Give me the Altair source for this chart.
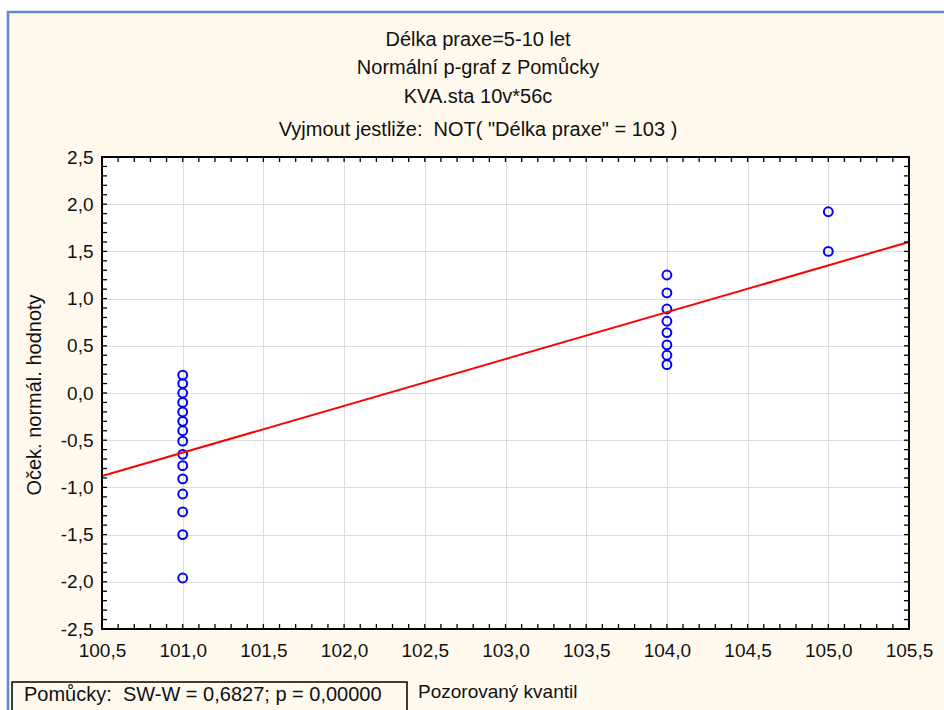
import altair as alt
import pandas as pd

# ---- data ----
obs_quantile = [101.0, 101.0, 101.0, 101.0, 101.0, 101.0, 101.0, 101.0,
                101.0, 101.0, 101.0, 101.0, 101.0, 101.0, 101.0,
                104.0, 104.0, 104.0, 104.0, 104.0, 104.0, 104.0, 104.0,
                105.0, 105.0]
exp_normal = [-1.96, -1.50, -1.26, -1.07, -0.91, -0.77, -0.65, -0.51,
              -0.40, -0.30, -0.20, -0.10, 0.00, 0.10, 0.19,
              0.30, 0.40, 0.51, 0.64, 0.76, 0.89, 1.06, 1.25,
              1.50, 1.92]
fit_x = [100.5, 105.5]
fit_y = [-0.88, 1.60]

major_x = [100.5, 101.0, 101.5, 102.0, 102.5, 103.0, 103.5, 104.0, 104.5, 105.0, 105.5]
major_y = [-2.5, -2.0, -1.5, -1.0, -0.5, 0.0, 0.5, 1.0, 1.5, 2.0, 2.5]
minor_x = [round(100.5 + 0.1 * i, 1) for i in range(51)]
minor_y = [round(-2.5 + 0.1 * i, 1) for i in range(51)]

NB = "\u00a0"
title_lines = ["Délka praxe=5-10 let",
               "Normální p-graf z Pomůcky",
               "KVA.sta 10v*56c",
               'Vyjmout jestliže:' + NB + ' NOT( "Délka praxe" = 103 )']
x_title = "Pozorovaný kvantil"
y_title = "Oček. normál. hodnoty"
stats_text = "Pomůcky:" + NB + " SW-W = 0,6827; p = 0,00000"

# ---- layout ----
FIG_W, FIG_H = 944, 710
L, T = 102, 157
W, H = 807, 472
FONT = "Liberation Sans"
FS = 19
FS_T = 20
CREAM = "#FFF9EE"
BLUE = "#5B8BCB"
TXT = "#111111"
X0, X1, Y0, Y1 = 100.5, 105.5, -2.5, 2.5
TICK = 5
dx = TICK * (X1 - X0) / W   # tick length in data units
dy = TICK * (Y1 - Y0) / H

pts_df = pd.DataFrame({"obs": obs_quantile, "exp": exp_normal})
fit_df = pd.DataFrame({"obs": fit_x, "exp": fit_y})

# inner frame ticks as short segments (bottom, top, left, right)
seg = []
for v in minor_x:
    seg.append({"x": v, "x2": v, "y": Y0, "y2": Y0 + dy})
    seg.append({"x": v, "x2": v, "y": Y1 - dy, "y2": Y1})
for v in minor_y:
    seg.append({"x": X0, "x2": X0 + dx, "y": v, "y2": v})
    seg.append({"x": X1 - dx, "x2": X1, "y": v, "y2": v})
tick_df = pd.DataFrame(seg)

one = alt.Data(values=[{"k": 0}])

xscale = alt.Scale(domain=[X0, X1], nice=False, zero=False)
yscale = alt.Scale(domain=[Y0, Y1], nice=False, zero=False)

label_expr = "replace(replace(format(datum.value, '.1f'), '.', ','), '\u2212', '-')"

main_x_axis = alt.Axis(values=major_x, grid=True, gridColor="#DCDCDC", gridWidth=1,
                       ticks=False, domain=False, labelExpr=label_expr, labelFont=FONT,
                       labelFontSize=FS, labelColor=TXT, labelPadding=12, title=None,
                       labelFlush=False, labelOverlap=False)
main_y_axis = alt.Axis(values=major_y, grid=True, gridColor="#DCDCDC", gridWidth=1,
                       ticks=False, domain=False, labelExpr=label_expr, labelFont=FONT,
                       labelFontSize=FS, labelColor=TXT, labelPadding=9, title=None,
                       labelFlush=False, labelOverlap=False)


def fixed(ax):
    return alt.value(ax - L)


def fixed_y(ay):
    return alt.value(ay - T)


# decorations outside plot area
white_top = alt.Chart(one).mark_rect(color="white").encode(
    x=fixed(0), x2=fixed(FIG_W), y=fixed_y(0), y2=fixed_y(12))
white_left = alt.Chart(one).mark_rect(color="white").encode(
    x=fixed(0), x2=fixed(8), y=fixed_y(0), y2=fixed_y(FIG_H))
blue_h = alt.Chart(one).mark_rule(color=BLUE, strokeWidth=2.5).encode(
    x=fixed(7), x2=fixed(FIG_W), y=fixed_y(12))
blue_v = alt.Chart(one).mark_rule(color=BLUE, strokeWidth=2.5).encode(
    x=fixed(8), y=fixed_y(11), y2=fixed_y(FIG_H))

points = alt.Chart(pts_df).mark_point(shape="circle", filled=False, color="#0000FF",
                                      strokeWidth=2, size=78, opacity=1).encode(
    x=alt.X("obs:Q", scale=xscale, axis=main_x_axis),
    y=alt.Y("exp:Q", scale=yscale, axis=main_y_axis))

fit = alt.Chart(fit_df).mark_line(color="#FF0000", strokeWidth=2).encode(
    x=alt.X("obs:Q", scale=xscale, axis=None),
    y=alt.Y("exp:Q", scale=yscale, axis=None))

ticks = alt.Chart(tick_df).mark_rule(color="black", strokeWidth=1.3).encode(
    x=alt.X("x:Q", scale=xscale, axis=None), x2="x2:Q",
    y=alt.Y("y:Q", scale=yscale, axis=None), y2="y2:Q")

frame = alt.Chart(one).mark_rect(fill="transparent", stroke="black", strokeWidth=2).encode(
    x=alt.value(0), x2=alt.value(W), y=alt.value(0), y2=alt.value(H))

title_y = [40, 68, 97, 130]
titles = [alt.Chart(one).mark_text(font=FONT, fontSize=FS_T, color=TXT,
                                   align="center", baseline="middle").encode(
    x=fixed(478), y=fixed_y(ty), text=alt.value(txt))
    for txt, ty in zip(title_lines, title_y)]

ytitle = alt.Chart(one).mark_text(font=FONT, fontSize=FS_T, color=TXT, angle=270,
                                  align="center", baseline="middle").encode(
    x=fixed(35), y=alt.value(H / 2 + 2), text=alt.value(y_title))
xtitle = alt.Chart(one).mark_text(font=FONT, fontSize=FS, color=TXT,
                                  align="left", baseline="middle").encode(
    x=fixed(418), y=fixed_y(692), text=alt.value(x_title))

stats_box = alt.Chart(one).mark_rect(fill=CREAM, stroke="black", strokeWidth=1.5).encode(
    x=fixed(12), x2=fixed(407), y=fixed_y(682), y2=fixed_y(FIG_H + 10))
stats = alt.Chart(one).mark_text(font=FONT, fontSize=FS_T, color=TXT,
                                 align="left", baseline="middle").encode(
    x=fixed(24), y=fixed_y(695), text=alt.value(stats_text))

chart = alt.layer(
    white_top, white_left, blue_h, blue_v,
    points, fit, ticks, frame,
    *titles, ytitle, xtitle, stats_box, stats
).resolve_axis(
    x="independent", y="independent"
).properties(
    width=W, height=H,
    padding={"left": L, "top": T, "right": FIG_W - L - W, "bottom": FIG_H - T - H},
    autosize=alt.AutoSizeParams(type="none"),
    background=CREAM,
).configure_view(
    fill="white", strokeWidth=0
)

chart.save("out.html", embed_options={"renderer": "svg", "actions": False})
